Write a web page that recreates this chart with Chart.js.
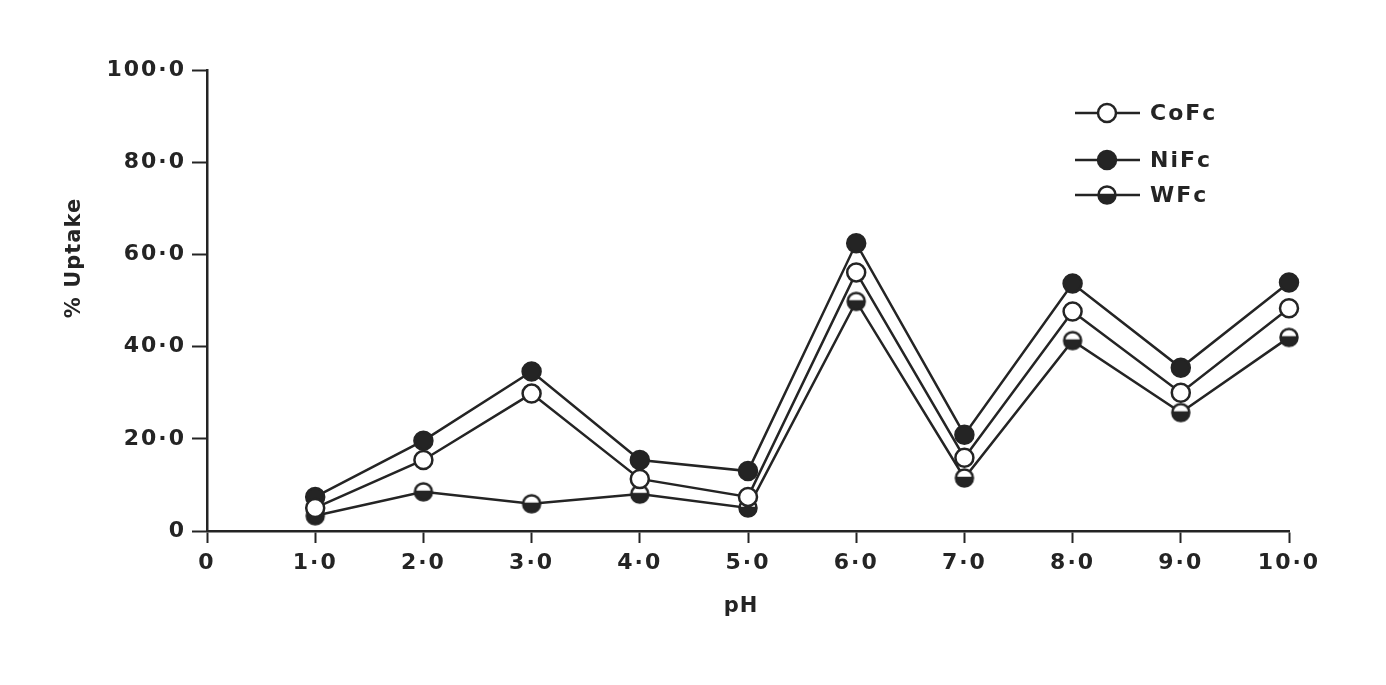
<!DOCTYPE html>
<html>
<head>
<meta charset="utf-8">
<script src="https://cdn.jsdelivr.net/npm/chart.js@4/dist/chart.umd.min.js"></script>
<style>
  html, body { margin: 0; padding: 0; background: #fff; }
  #wrap { width: 1386px; height: 685px; }
</style>
</head>
<body>
<div id="wrap"><canvas id="chart" width="1386" height="685"></canvas></div>
<script>
// pH values on the x axis
const pH = [1, 2, 3, 4, 5, 6, 7, 8, 9, 10];

// % uptake for each complex
const coFc = [5.0, 15.4, 29.8, 11.3, 7.4, 56.1, 15.9, 47.6, 30.0, 48.3];
const niFc = [7.4, 19.6, 34.6, 15.4, 13.0, 62.4, 20.9, 53.7, 35.4, 53.9];
const wFc  = [3.3, 8.5, 5.9, 8.0, 5.0, 49.8, 11.5, 41.3, 25.7, 42.0];

// tick labels as printed
const xTickLabels = ["0", "1·0", "2·0", "3·0", "4·0", "5·0", "6·0", "7·0", "8·0", "9·0", "10·0"];
const yTickLabels = ["0", "20·0", "40·0", "60·0", "80·0", "100·0"];

const xTitle = "pH";
const yTitle = "% Uptake";

const INK = "#242424";
const FONT = "'DejaVu Sans', sans-serif";
const SPACING = "2px";

// half filled marker for WFc (bottom half dark)
function halfMarker(r) {
    const size = r * 2 + 4;
    const c = document.createElement("canvas");
    c.width = size;
    c.height = size;
    const g = c.getContext("2d");
    const m = size / 2;
    g.fillStyle = "#fff";
    g.beginPath();
    g.arc(m, m, r, 0, Math.PI * 2);
    g.fill();
    g.fillStyle = INK;
    g.beginPath();
    g.arc(m, m, r, -0.15, Math.PI + 0.15);
    g.closePath();
    g.fill();
    g.strokeStyle = INK;
    g.lineWidth = 2.5;
    g.beginPath();
    g.arc(m, m, r - 0.5, 0, Math.PI * 2);
    g.stroke();
    return c;
}
const wMarker = halfMarker(9);

function pts(ys) {
    return pH.map((x, i) => ({ x: x, y: ys[i] }));
}

// wide letter spacing like the printed lettering
const spacingPlugin = {
    id: "spacing",
    beforeLayout(chart) { chart.ctx.letterSpacing = SPACING; },
    beforeDraw(chart) { chart.ctx.letterSpacing = SPACING; }
};

// axis titles and legend drawn by hand
const textPlugin = {
    id: "texts",
    afterDraw(chart) {
        const ctx = chart.ctx;
        ctx.save();
        ctx.letterSpacing = "1px";
        ctx.fillStyle = INK;
        ctx.font = "bold 21px " + FONT;
        ctx.textAlign = "center";
        ctx.textBaseline = "middle";
        ctx.fillText(xTitle, 741, 607);
        ctx.save();
        ctx.translate(75, 258);
        ctx.rotate(-Math.PI / 2);
        ctx.fillText(yTitle, 0, 0);
        ctx.restore();

        const rows = [113, 160, 195];
        chart.data.datasets.forEach((ds, i) => {
            const y = rows[i];
            ctx.strokeStyle = INK;
            ctx.lineWidth = 2.5;
            ctx.beginPath();
            ctx.moveTo(1075, y);
            ctx.lineTo(1140, y);
            ctx.stroke();
            const cx = 1107;
            if (ds.pointStyle instanceof HTMLCanvasElement) {
                const im = ds.pointStyle;
                ctx.drawImage(im, cx - im.width / 2, y - im.height / 2);
            } else {
                ctx.fillStyle = ds.pointBackgroundColor;
                ctx.beginPath();
                ctx.arc(cx, y, 9, 0, Math.PI * 2);
                ctx.fill();
                ctx.stroke();
            }
            ctx.fillStyle = INK;
            ctx.letterSpacing = SPACING;
            ctx.font = "bold 22px " + FONT;
            ctx.textAlign = "left";
            ctx.fillText(ds.label, 1150, y + 1);
        });
        ctx.restore();
    }
};

new Chart(document.getElementById("chart"), {
    type: "line",
    data: {
        datasets: [
            {
                label: "CoFc",
                data: pts(coFc),
                borderColor: INK,
                borderWidth: 2.5,
                pointStyle: "circle",
                pointRadius: 9,
                pointBackgroundColor: "#fff",
                pointBorderColor: INK,
                pointBorderWidth: 2.5,
                clip: false
            },
            {
                label: "NiFc",
                data: pts(niFc),
                borderColor: INK,
                borderWidth: 2.5,
                pointStyle: "circle",
                pointRadius: 9,
                pointBackgroundColor: INK,
                pointBorderColor: INK,
                pointBorderWidth: 2.5,
                clip: false
            },
            {
                label: "WFc",
                data: pts(wFc),
                borderColor: INK,
                borderWidth: 2.5,
                pointStyle: wMarker,
                pointRadius: 9,
                clip: false
            }
        ]
    },
    options: {
        responsive: false,
        animation: false,
        events: [],
        layout: { padding: { left: 0, top: 70, right: 97, bottom: 0 } },
        plugins: {
            legend: { display: false },
            tooltip: { enabled: false }
        },
        scales: {
            x: {
                type: "linear",
                min: 0,
                max: 10,
                afterFit(s) { s.height = 154; },
                afterBuildTicks(s) {
                    s.ticks = xTickLabels.map((_, i) => ({ value: i }));
                },
                ticks: {
                    callback: (v, i) => xTickLabels[i],
                    color: INK,
                    font: { family: FONT, size: 22, weight: "bold" },
                    padding: 7,
                    maxRotation: 0,
                    autoSkip: false
                },
                grid: {
                    drawOnChartArea: false,
                    drawTicks: true,
                    tickLength: 12,
                    tickWidth: 2,
                    tickColor: INK
                },
                border: { color: INK, width: 2.5 }
            },
            y: {
                min: 0,
                max: 100,
                afterFit(s) { s.width = 207; },
                afterBuildTicks(s) {
                    s.ticks = yTickLabels.map((_, i) => ({ value: i * 20 }));
                },
                ticks: {
                    callback: (v, i) => yTickLabels[i],
                    color: INK,
                    font: { family: FONT, size: 22, weight: "bold" },
                    padding: 6
                },
                grid: {
                    drawOnChartArea: false,
                    drawTicks: true,
                    tickLength: 15,
                    tickWidth: 2,
                    tickColor: INK
                },
                border: { color: INK, width: 2.5 }
            }
        }
    },
    plugins: [spacingPlugin, textPlugin]
});
</script>
</body>
</html>
